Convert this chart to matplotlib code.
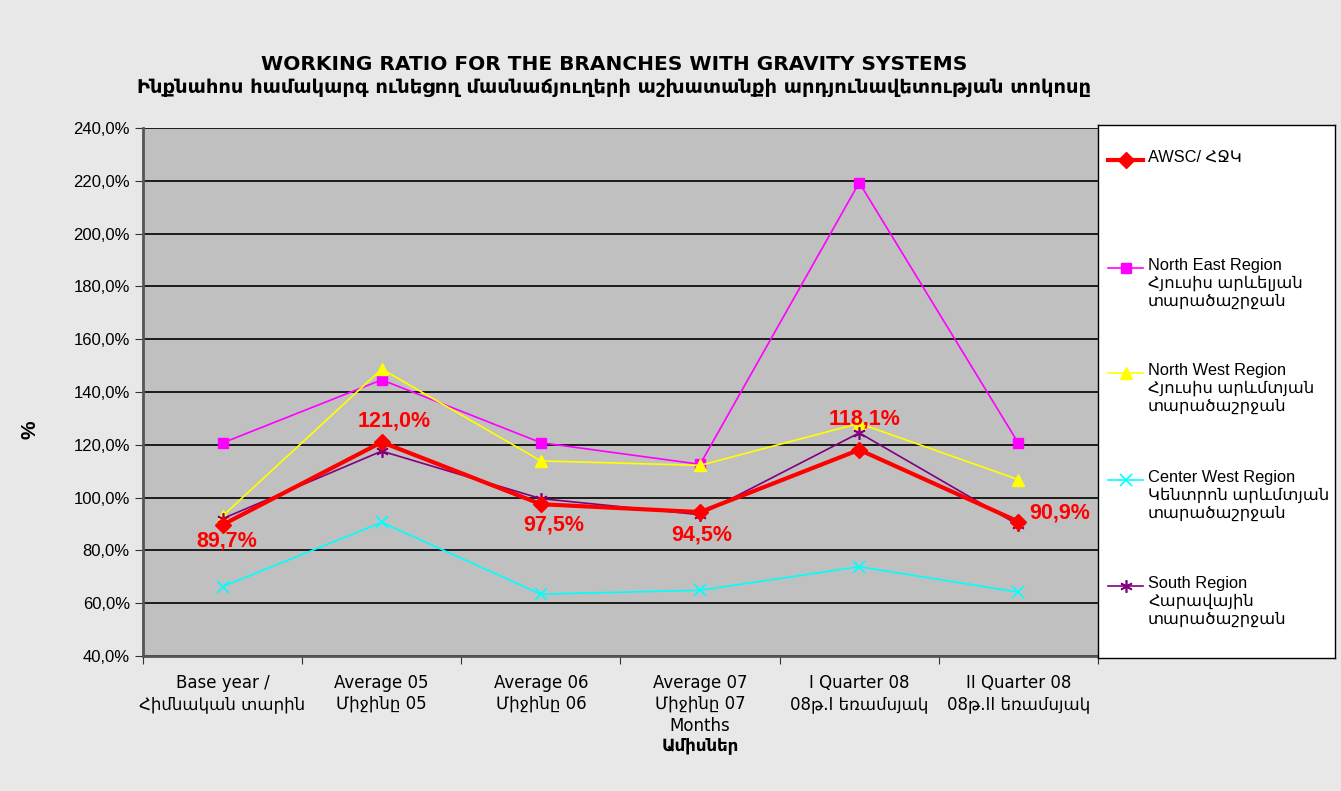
import matplotlib
matplotlib.use("Agg")
from matplotlib import pyplot as plt
from matplotlib.lines import Line2D

plt.rcParams['font.family'] = ['Liberation Sans', 'DejaVu Sans']
dv = ['DejaVu Sans']

categories = ["Base year /\nՀիմնական տարին", "Average 05\nՄիջինը 05", "Average 06\nՄիջինը 06",
              "Average 07\nՄիջինը 07", "I Quarter 08\n08թ.I եռամսյակ", "II Quarter 08\n08թ.II եռամսյակ"]
awsc = [89.7, 121.0, 97.5, 94.5, 118.1, 90.9]
north_east = [120.7, 144.6, 120.8, 112.6, 219.3, 120.6]
north_west = [93.0, 148.7, 113.9, 112.2, 128.1, 106.8]
center_west = [66.3, 90.6, 63.4, 64.9, 73.8, 64.2]
south = [92.0, 117.6, 99.6, 93.5, 124.5, 89.6]

series = [
    ("AWSC/ ՀՋԿ", awsc, dict(color="red", lw=3, marker="D", ms=8, zorder=6)),
    ("North East Region\nՀյուսիս արևելյան\nտարածաշրջան", north_east,
     dict(color="#FF00FF", lw=1.2, marker="s", ms=7, zorder=4)),
    ("North West Region\nՀյուսիս արևմտյան\nտարածաշրջան", north_west,
     dict(color="#FFFF00", lw=1.2, marker="^", ms=8, zorder=4)),
    ("Center West Region\nԿենտրոն արևմտյան\nտարածաշրջան", center_west,
     dict(color="#00FFFF", lw=1.2, marker="x", ms=8, mew=1.2, zorder=4)),
    ("South Region\nՀարավային\nտարածաշրջան", south,
     dict(color="#800080", lw=1.2, marker=(6, 2, 0), ms=9, mew=1.2, zorder=5)),
]

fig = plt.figure(figsize=(13.41, 7.91), dpi=100, facecolor="#E8E8E8")
ax = fig.add_axes([0.1066, 0.1707, 0.7122, 0.6675])
ax.set_facecolor("#C0C0C0")

x = list(range(len(categories)))
for name, vals, style in series:
    ax.plot(x, vals, **style)

# data labels for AWSC (offsets in points, text centred)
offsets = [(3, -12), (9, 15), (9, -15), (1, -16.5), (4, 22), (8, 6)]
for i, (xi, v) in enumerate(zip(x, awsc)):
    dx, dy = offsets[i]
    ha = "left" if i == len(x) - 1 else "center"
    ax.annotate(f"{v:.1f}%".replace(".", ","), (xi, v), xytext=(dx, dy), textcoords="offset points",
                ha=ha, va="center", color="red", fontsize=15.5, fontweight="bold", zorder=7)

ax.set_xlim(-0.5, len(categories) - 0.5)
ax.set_ylim(40, 240)
ax.set_yticks(range(40, 241, 20))
ax.set_yticklabels([f"{t},0%" for t in range(40, 241, 20)], fontsize=12)
ax.yaxis.grid(True, color="black", lw=1.2)
ax.set_axisbelow(True)

ax.set_xticks([i - 0.5 for i in range(len(categories) + 1)])
ax.set_xticklabels([])
ax.set_xticks(x, minor=True)
ax.set_xticklabels(categories, minor=True, fontsize=12, family=dv)
ax.tick_params(axis="x", which="minor", length=0, pad=13)
ax.tick_params(axis="x", which="major", length=6, color="#333333")
ax.tick_params(axis="y", length=6, color="#333333")

for s in ["top", "right"]:
    ax.spines[s].set_visible(False)
ax.spines["left"].set_color("#555555")
ax.spines["left"].set_linewidth(2)
ax.spines["bottom"].set_color("#555555")
ax.spines["bottom"].set_linewidth(2)

fig.text(0.0224, 0.4564, "%", rotation=90, ha="center", va="center", fontsize=15, fontweight="bold")
fig.text(0.522, 0.082, "Months", ha="center", va="center", fontsize=12, family=dv)
fig.text(0.522, 0.058, "Ամիսներ", ha="center", va="center", fontsize=12, fontweight="bold", family=dv)

fig.text(0.458, 0.919, "WORKING RATIO FOR THE BRANCHES WITH GRAVITY SYSTEMS", ha="center", va="center",
         fontsize=14.5, fontweight="bold", family=dv)
fig.text(0.458, 0.889, "Ինքնահոս համակարգ ունեցող մասնաճյուղերի աշխատանքի արդյունավետության տոկոսը",
         ha="center", va="center", fontsize=14, fontweight="bold", family=dv)

# legend panel
lax = fig.add_axes([0.8188, 0.1681, 0.1767, 0.6738])
lax.set_xlim(0, 237)
lax.set_ylim(533, 0)
lax.set_xticks([])
lax.set_yticks([])
lax.set_facecolor("white")
for s in lax.spines.values():
    s.set_color("black")
    s.set_linewidth(1)
rows = [35, 143, 248, 355, 461]
for (name, vals, style), yy in zip(series, rows):
    st = dict(style)
    st.pop("zorder", None)
    lax.add_line(Line2D([10, 27.5, 45], [yy, yy, yy], markevery=[1], **st))
    lax.text(50, yy - 10, name, va="top", ha="left", fontsize=11.8, linespacing=1.2)

fig.savefig("out.png", dpi=100, facecolor=fig.get_facecolor())
